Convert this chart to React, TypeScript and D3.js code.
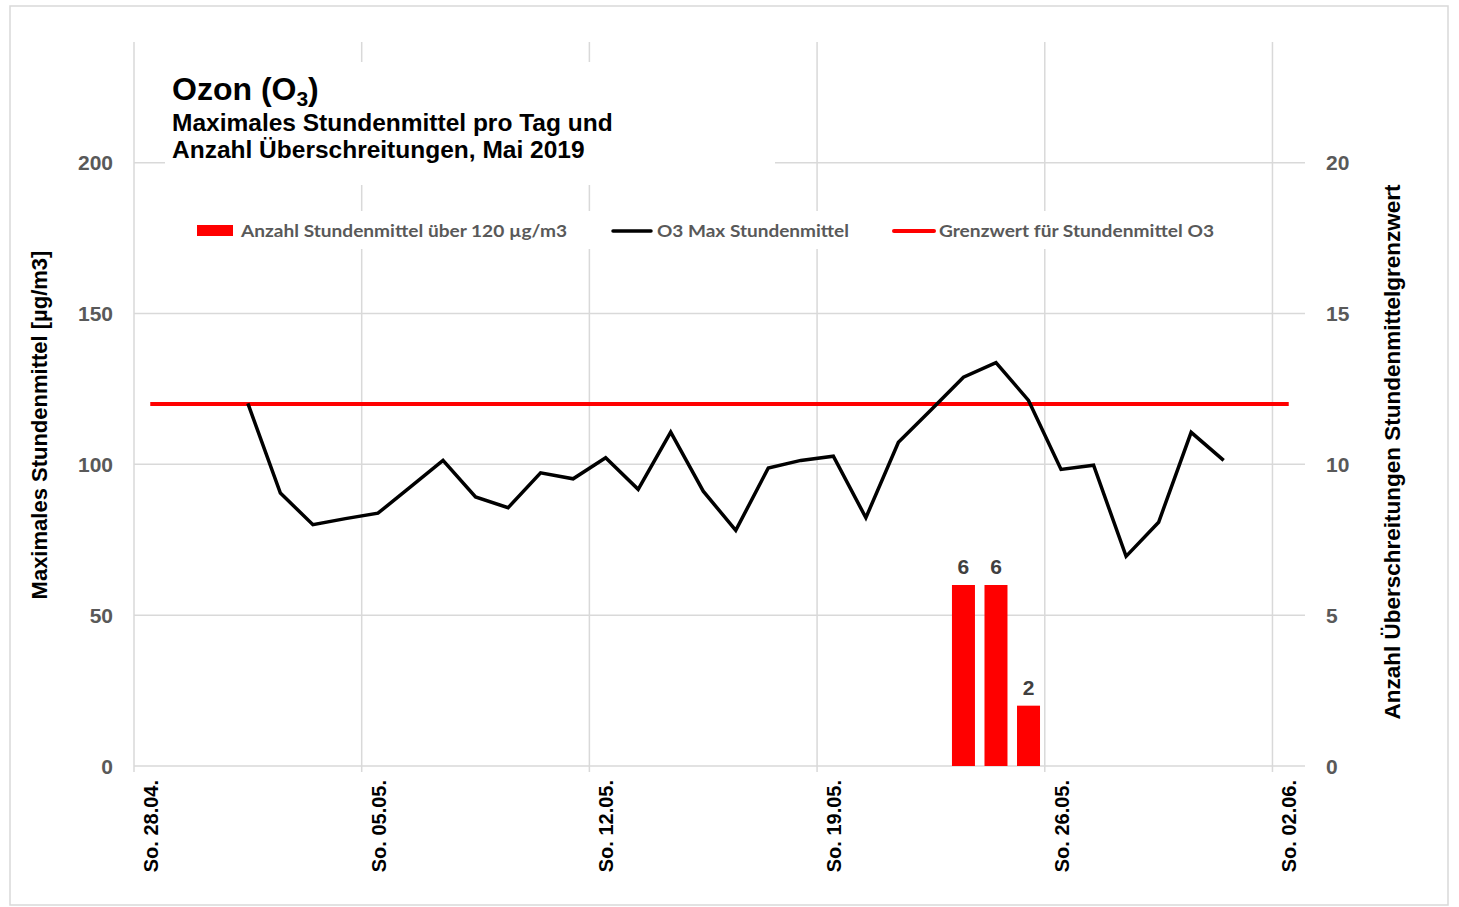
import React from "react";
import * as d3 from "d3";

// Tagesdaten Mai 2019 (Maximales Stundenmittel O3, µg/m3)
const ozoneStart = "2019-05-01";
const ozoneMax = [
  120.2, 90.5, 80, 82, 83.8, 92.5, 101.3, 89.2, 85.6, 97.2, 95.2, 102.2, 91.7,
  110.7, 91.1, 78.1, 98.8, 101.3, 102.7, 82.3, 107.3, 118, 128.9, 133.7, 121.2,
  98.3, 99.7, 69.5, 80.8, 110.6, 101.3,
];

// Anzahl Stundenmittel über 120 µg/m3
const exceedDates = ["2019-05-23", "2019-05-24", "2019-05-25"];
const exceedCounts = [6, 6, 2];

// Grenzwert
const limitValue = 120;
const limitFrom = "2019-04-28";
const limitTo = "2019-06-02";

// Achsen
const xTickDates = ["2019-04-28", "2019-05-05", "2019-05-12", "2019-05-19", "2019-05-26", "2019-06-02"];
const xTickLabels = ["So. 28.04.", "So. 05.05.", "So. 12.05.", "So. 19.05.", "So. 26.05.", "So. 02.06."];
const leftTicks = [0, 50, 100, 150, 200];
const rightTicks = [0, 5, 10, 15, 20];

const legendLabels = [
  "Anzahl Stundenmittel über 120 µg/m3",
  "O3 Max Stundenmittel",
  "Grenzwert für Stundenmittel O3",
];

const W = 1459;
const H = 907;
const plot = { left: 134, right: 1305, top: 42, bottom: 766 };

const parse = (s: string) => new Date(s + "T00:00:00Z");
const noon = (d: Date) => d3.utcHour.offset(d, 12);

export default function App() {
  const x = d3
    .scaleUtc()
    .domain([parse("2019-04-28"), parse("2019-06-03")])
    .range([plot.left, plot.right]);
  const yL = d3.scaleLinear().domain([0, 240]).range([plot.bottom, plot.top]);
  const yR = d3.scaleLinear().domain([0, 24]).range([plot.bottom, plot.top]);

  const ozone = ozoneMax.map((v, i) => ({
    date: d3.utcDay.offset(parse(ozoneStart), i),
    value: v,
  }));
  const limitDays = d3.utcDay.range(parse(limitFrom), d3.utcDay.offset(parse(limitTo), 1));
  const limit = limitDays.map((d) => ({ date: d, value: limitValue }));

  const lineGen = d3
    .line<{ date: Date; value: number }>()
    .x((d) => x(noon(d.date)))
    .y((d) => yL(d.value));

  const barW = 23;
  const gridColor = "#d9d9d9";
  const tickColor = "#595959";
  const arial = "'Liberation Sans', Arial, sans-serif";
  const legendFont = "Lato, 'Open Sans', sans-serif";

  return (
    <svg width={W} height={H} style={{ position: "absolute", left: 0, top: 0, background: "#fff" }}>
      <rect x={10} y={6} width={1438} height={899} fill="#fff" stroke={gridColor} strokeWidth={1.5} />

      {/* gridlines */}
      <g>
        {leftTicks.map((t) => (
          <line key={"h" + t} x1={plot.left} x2={plot.right} y1={yL(t)} y2={yL(t)} stroke={gridColor} strokeWidth={1.5} />
        ))}
        {xTickDates.map((d) => (
          <line key={"v" + d} x1={x(parse(d))} x2={x(parse(d))} y1={plot.top} y2={plot.bottom + 6} stroke={gridColor} strokeWidth={1.5} />
        ))}
      </g>

      {/* title box and legend box hide gridlines */}
      <rect x={165} y={62} width={610} height={123} fill="#fff" />
      <rect x={185} y={211} width={1042} height={38} fill="#fff" />

      {/* bars */}
      <g>
        {exceedDates.map((d, i) => {
          const cx = x(noon(parse(d)));
          return (
            <g key={d}>
              <rect x={cx - barW / 2} y={yR(exceedCounts[i])} width={barW} height={yR(0) - yR(exceedCounts[i])} fill="#ff0000" />
              <text x={cx} y={yR(exceedCounts[i]) - 11} textAnchor="middle" fontFamily={arial} fontWeight="bold" fontSize={21} fill="#404040">
                {exceedCounts[i]}
              </text>
            </g>
          );
        })}
      </g>

      {/* lines */}
      <path d={lineGen(limit) || ""} fill="none" stroke="#ff0000" strokeWidth={4} />
      <path d={lineGen(ozone) || ""} fill="none" stroke="#000" strokeWidth={3.5} strokeLinejoin="miter" />

      {/* left axis */}
      {leftTicks.map((t) => (
        <text key={"l" + t} x={113} y={yL(t) + 7.5} textAnchor="end" fontFamily={arial} fontWeight="bold" fontSize={21} fill={tickColor}>
          {t}
        </text>
      ))}
      {/* right axis */}
      {rightTicks.map((t) => (
        <text key={"r" + t} x={1326} y={yR(t) + 7.5} fontFamily={arial} fontWeight="bold" fontSize={21} fill={tickColor}>
          {t}
        </text>
      ))}
      {/* x axis */}
      {xTickDates.map((d, i) => (
        <text
          key={"x" + d}
          transform={`translate(${x(parse(d)) + 24},${780}) rotate(-90)`}
          textAnchor="end"
          fontFamily={arial}
          fontWeight="bold"
          fontSize={20}
          fill="#000"
        >
          {xTickLabels[i]}
        </text>
      ))}

      {/* axis titles */}
      <text transform="translate(47,425) rotate(-90)" textAnchor="middle" fontFamily={arial} fontWeight="bold" fontSize={22} fill="#000">
        Maximales Stundenmittel [µg/m3]
      </text>
      <text transform="translate(1400,452) rotate(-90)" textAnchor="middle" fontFamily={arial} fontWeight="bold" fontSize={22.5} fill="#000">
        Anzahl Überschreitungen Stundenmittelgrenzwert
      </text>

      {/* title */}
      <text x={172} y={100} fontFamily={arial} fontWeight="bold" fontSize={32} fill="#000">
        Ozon (O<tspan fontSize={21} dy={6}>3</tspan><tspan dy={-6}>)</tspan>
      </text>
      <text x={172} y={131} fontFamily={arial} fontWeight="bold" fontSize={24.5} fill="#000">
        Maximales Stundenmittel pro Tag und
      </text>
      <text x={172} y={158} fontFamily={arial} fontWeight="bold" fontSize={24.5} fill="#000">
        Anzahl Überschreitungen, Mai 2019
      </text>

      {/* legend */}
      <g fontFamily={legendFont} fontWeight="bold" fontSize={17} fill={tickColor}>
        <rect x={197} y={225} width={36} height={11} fill="#ff0000" />
        <text x={241} y={237} textLength={326} lengthAdjust="spacingAndGlyphs">{legendLabels[0]}</text>
        <line x1={613} x2={651} y1={231} y2={231} stroke="#000" strokeWidth={3.5} strokeLinecap="round" />
        <text x={657} y={237} textLength={192} lengthAdjust="spacingAndGlyphs">{legendLabels[1]}</text>
        <line x1={894} x2={934} y1={231} y2={231} stroke="#ff0000" strokeWidth={4} strokeLinecap="round" />
        <text x={939} y={237} textLength={275} lengthAdjust="spacingAndGlyphs">{legendLabels[2]}</text>
      </g>
    </svg>
  );
}
